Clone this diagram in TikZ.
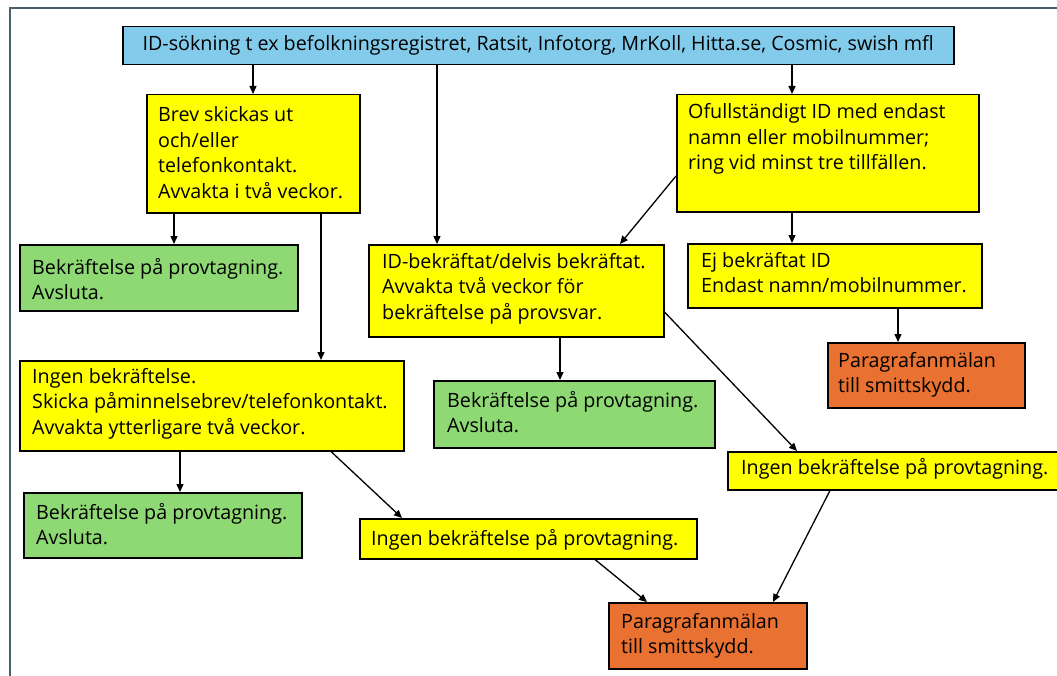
\documentclass[tikz,border=0pt]{standalone}
\usepackage{fontspec}
\setmainfont{Open Sans}
\usetikzlibrary{arrows.meta,calc}

\definecolor{srcblue}{HTML}{83CBEB}
\definecolor{stepyellow}{HTML}{FFFF00}
\definecolor{okgreen}{HTML}{8ED973}
\definecolor{alertorange}{HTML}{E97132}
\definecolor{framegray}{HTML}{46606E}

\begin{document}
\begin{tikzpicture}[x=1bp,y=-1bp,
  font=\fontsize{19.7bp}{25.5bp}\selectfont,
  box/.style={draw=black, line width=1.5bp, rectangle, inner sep=0pt, anchor=north west},
  txt/.style={anchor=base west, inner sep=0pt},
  arr/.style={-{Triangle[length=8bp,width=7bp]}, line width=1.3bp},
]
\useasboundingbox (0,0) rectangle (1057,676);

% outer frame (left and top edges)
\draw[framegray, line width=2.2bp] (10,676) -- (10,8) -- (1057,8);

% ---- boxes ----
\node[box, fill=srcblue, minimum width=831bp, minimum height=38bp] (src) at (122,26)
  {ID-sökning t ex befolkningsregistret, Ratsit, Infotorg, MrKoll, Hitta.se, Cosmic, swish mfl};

\node[box, fill=stepyellow, minimum width=213bp, minimum height=118bp] (brev) at (146,94) {};
\node[txt] (brevt) at (158,122) {\begin{tabular}[t]{@{}l@{}}Brev skickas ut\\och/eller\\telefonkontakt.\\Avvakta i två veckor.\end{tabular}};

\node[box, fill=stepyellow, minimum width=302bp, minimum height=117bp] (ofull) at (676,94) {};
\node[txt] (ofullt) at (688,119) {\begin{tabular}[t]{@{}l@{}}Ofullständigt ID med endast\\namn eller mobilnummer;\\ring vid minst tre tillfällen.\end{tabular}};

\node[box, fill=okgreen, minimum width=278bp, minimum height=66bp] (gra) at (19,244) {};
\node[txt] (grat) at (32,274) {\begin{tabular}[t]{@{}l@{}}Bekräftelse på provtagning.\\Avsluta.\end{tabular}};

\node[box, fill=stepyellow, minimum width=295bp, minimum height=92bp] (idb) at (368,244) {};
\node[txt] (idbt) at (382,268) {\begin{tabular}[t]{@{}l@{}}ID-bekräftat/delvis bekräftat.\\Avvakta två veckor för\\bekräftelse på provsvar.\end{tabular}};

\node[box, fill=stepyellow, minimum width=294bp, minimum height=64bp] (ej) at (687,243) {};
\node[txt] (ejt) at (701,267) {\begin{tabular}[t]{@{}l@{}}Ej bekräftat ID\\Endast namn/mobilnummer.\end{tabular}};

\node[box, fill=alertorange, minimum width=197bp, minimum height=65bp] (ora) at (827,342) {};
\node[txt] (orat) at (838,367) {\begin{tabular}[t]{@{}l@{}}Paragrafanmälan\\till smittskydd.\end{tabular}};

\node[box, fill=stepyellow, minimum width=384bp, minimum height=90bp] (big) at (19,360) {};
\node[txt] (bigt) at (32,383) {\begin{tabular}[t]{@{}l@{}}Ingen bekräftelse.\\Skicka påminnelsebrev/telefonkontakt.\\Avvakta ytterligare två veckor.\end{tabular}};

\node[box, fill=okgreen, minimum width=281bp, minimum height=67bp] (grb) at (433,380) {};
\node[txt] (grbt) at (447,407) {\begin{tabular}[t]{@{}l@{}}Bekräftelse på provtagning.\\Avsluta.\end{tabular}};

\node[box, fill=okgreen, minimum width=278bp, minimum height=65bp] (grc) at (23,492) {};
\node[txt] (grct) at (36,519) {\begin{tabular}[t]{@{}l@{}}Bekräftelse på provtagning.\\Avsluta.\end{tabular}};

\node[box, fill=stepyellow, minimum width=337bp, minimum height=40bp] (mid) at (359,518) {};
\node[txt] (midt) at (371,545) {Ingen bekräftelse på provtagning.};

\node[box, fill=stepyellow, minimum width=333bp, minimum height=38bp] (rgt) at (727,451) {};
\node[txt] (rgtt) at (741,474) {Ingen bekräftelse på provtagning.};

\node[box, fill=alertorange, minimum width=198bp, minimum height=66bp] (orb) at (608,602) {};
\node[txt] (orbt) at (621,628) {\begin{tabular}[t]{@{}l@{}}Paragrafanmälan\\till smittskydd.\end{tabular}};

% ---- connectors ----
\draw[arr] ($(src.south west)+(131,0)$) -- ($(brev.north west)+(107,0)$);
\draw[arr] ($(src.south west)+(315,0)$) -- ($(idb.north west)+(69,0)$);
\draw[arr] ($(src.south west)+(670,0)$) -- ($(ofull.north west)+(116,0)$);
\draw[arr] ($(brev.south west)+(28,0)$) -- ($(gra.north west)+(155,0)$);
\draw[arr] ($(brev.south west)+(175,0)$) -- ($(big.north west)+(302,0)$);
\draw[arr] ($(ofull.north west)+(0,82)$) -- ($(idb.north west)+(252,0)$);
\draw[arr] ($(ofull.south west)+(116,0)$) -- ($(ej.north west)+(105,0)$);
\draw[arr] ($(ej.south west)+(211,0)$) -- ($(ora.north west)+(71,0)$);
\draw[arr] ($(idb.south west)+(192,0)$) -- ($(grb.north west)+(127,0)$);
\draw[arr] ($(idb.north east)+(0,68)$) -- ($(rgt.north west)+(70,0)$);
\draw[arr] ($(big.south west)+(161,0)$) -- ($(grc.north west)+(157,0)$);
\draw[arr] ($(big.south west)+(312,0)$) -- ($(mid.north west)+(43,0)$);
\draw[arr] ($(mid.south west)+(236,0)$) -- ($(orb.north west)+(39,0)$);
\draw[arr] ($(rgt.south west)+(103,0)$) -- ($(orb.north west)+(165,0)$);
\end{tikzpicture}
\end{document}
